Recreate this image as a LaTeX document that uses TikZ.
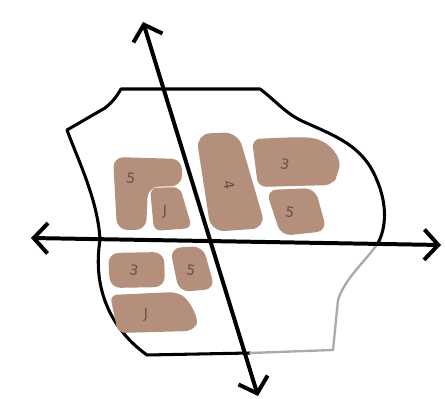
\documentclass[tikz,border=0pt]{standalone}
\usepackage{fontspec}
\setmainfont{DejaVu Sans}
\usepackage{tikz}
\usetikzlibrary{arrows.meta}

\definecolor{blobfill}{RGB}{180,144,124}
\definecolor{blobtext}{RGB}{105,80,68}
\definecolor{outlinegray}{RGB}{170,170,170}

\begin{document}
\begin{tikzpicture}[
    x=0.03cm, y=-0.03cm,
    blob/.style={fill=blobfill, draw=none, rounded corners=9pt},
    lbl/.style={font=\large, text=blobtext, inner sep=0pt},
    border/.style={line width=2.6pt, line join=round, line cap=round},
    axis/.style={line width=3.4pt, line cap=round,
        {Straight Barb[length=12pt,width=26pt,line width=3.4pt]}-{Straight Barb[length=12pt,width=26pt,line width=3.4pt]}}
]
\useasboundingbox (0,0) rectangle (445,399);

% outline of the region
\draw[border] (250,353) -- (147,355) .. controls (112,330) and (92,290) .. (100,240)
    .. controls (98,200) and (78,160) .. (67,130) -- (105,108)
    .. controls (114,101) and (118,94) .. (121,89) -- (260,89)
    .. controls (275,100) and (285,113) .. (302,121)
    .. controls (335,136) and (362,145) .. (376,178)
    .. controls (388,205) and (386,228) .. (378,243);
\draw[border, draw=outlinegray, line width=2pt] (378,243) .. controls (365,262) and (345,278) .. (338,300)
    -- (333,350) -- (250,353);

% blocks
\draw[blob] (113,157) -- (182,159) -- (182,186) -- (148,187) -- (146,230) -- (117,230) -- cycle;
\draw[blob, rounded corners=6pt] (150,188) -- (180,187) -- (192,228) -- (154,231) -- cycle;
\draw[blob, rounded corners=12pt] (196,134) -- (238,132) -- (266,228) -- (211,232) -- cycle;
\draw[blob, rounded corners=7pt] (252,139) -- (300,137) .. controls (330,139) and (342,158) .. (337,176)
    -- (333,185) -- (258,187) -- cycle;
\draw[blob] (266,190) -- (315,188) -- (327,231) -- (281,236) -- cycle;
\draw[blob] (108,253) -- (164,252) -- (165,287) -- (110,288) -- cycle;
\draw[blob] (170,248) -- (203,246) -- (215,289) -- (179,292) -- cycle;
\draw[blob, rounded corners=6pt] (110,295) -- (176,292) .. controls (190,300) and (200,320) .. (192,331)
    -- (118,333) -- cycle;

\node[lbl, rotate=-10] (z1) at (131,178) {5};
\node[lbl] (j1) at (165,212) {J};
\node[lbl, rotate=-80] (f1) at (229,185) {4};
\node[lbl, rotate=-10] (t1) at (285,164) {3};
\node[lbl, rotate=-10] (z2) at (290,212) {5};
\node[lbl, rotate=-10] (t2) at (134,270) {3};
\node[lbl, rotate=-10] (z3) at (191,270) {5};
\node[lbl] (j2) at (146,315) {J};

% axes
\coordinate (west) at (31,238);
\coordinate (east) at (441,245);
\coordinate (north) at (143,22);
\coordinate (south) at (258,396);
\draw[axis] (west) -- (east);
\draw[axis] (north) -- (south);
\end{tikzpicture}
\end{document}
